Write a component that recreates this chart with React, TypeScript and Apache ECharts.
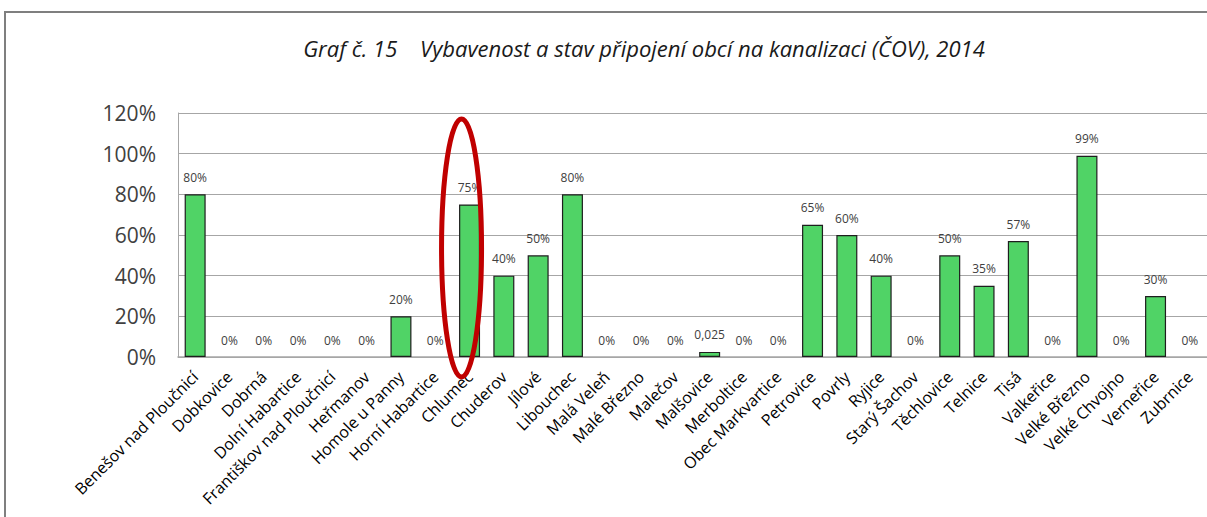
import React, { useEffect, useRef } from "react";
import * as echarts from "echarts";

const titleText = "Graf č. 15    Vybavenost a stav připojení obcí na kanalizaci (ČOV), 2014";

const categories = [
  "Benešov nad Ploučnicí", "Dobkovice", "Dobrná", "Dolní Habartice", "Františkov nad Ploučnicí",
  "Heřmanov", "Homole u Panny", "Horní Habartice", "Chlumec", "Chuderov",
  "Jílové", "Libouchec", "Malá Veleň", "Malé Březno", "Malečov",
  "Malšovice", "Merboltice", "Obec Markvartice", "Petrovice", "Povrly",
  "Ryjice", "Starý Šachov", "Těchlovice", "Telnice", "Tisá",
  "Valkeřice", "Velké Březno", "Velké Chvojno", "Verneřice", "Zubrnice",
];

const values = [
  0.8, 0, 0, 0, 0,
  0, 0.2, 0, 0.75, 0.4,
  0.5, 0.8, 0, 0, 0,
  0.025, 0, 0, 0.65, 0.6,
  0.4, 0, 0.5, 0.35, 0.57,
  0, 0.99, 0, 0.3, 0,
];

const yTicks = [0, 0.2, 0.4, 0.6, 0.8, 1.0, 1.2];
const highlighted = "Chlumec";

const fmtLabel = (v: number) => {
  const pct = Math.round(v * 1000) / 10;
  if (Number.isInteger(pct)) return pct + "%";
  return String(v).replace(".", ",");
};

export default function App() {
  const ref = useRef<HTMLDivElement>(null);
  useEffect(() => {
    document.body.style.margin = "0";
    if (!ref.current) return;
    const chart = echarts.init(ref.current, undefined, { renderer: "svg" });
    const gridLeft = 178;
    const gridTop = 113;
    const gridW = 1031;
    const gridH = 244;
    const frame = {
      type: "rect",
      shape: { x: 5, y: 12, width: 1400, height: 700 },
      style: { fill: "none", stroke: "#7f7f7f", lineWidth: 2 },
      silent: true,
    };
    chart.setOption({
      animation: false,
      backgroundColor: "#ffffff",
      title: {
        text: titleText,
        left: 639,
        top: 32,
        textAlign: "center",
        textStyle: {
          fontFamily: "Open Sans",
          fontStyle: "italic",
          fontWeight: "normal",
          fontSize: 22,
          color: "#1a1a1a",
        },
      },
      grid: { left: gridLeft, top: gridTop, width: gridW, height: gridH, containLabel: false },
      xAxis: {
        type: "category",
        data: categories,
        axisLine: { lineStyle: { color: "#a6a6a6", width: 1.5 } },
        axisTick: { show: false },
        axisLabel: {
          interval: 0,
          rotate: 45,
          fontFamily: "Open Sans",
          fontSize: 16,
          color: "#000000",
          margin: 17,
        },
      },
      yAxis: {
        type: "value",
        min: yTicks[0],
        max: yTicks[yTicks.length - 1],
        interval: 0.2,
        axisLine: { show: true, lineStyle: { color: "#a6a6a6", width: 1 } },
        axisTick: { show: false },
        splitLine: { lineStyle: { color: "#a6a6a6", width: 1 } },
        axisLabel: {
          formatter: (v: number) => Math.round(v * 100) + "%",
          fontFamily: "Open Sans",
          fontSize: 21,
          color: "#404040",
          margin: 22,
        },
      },
      series: [
        {
          type: "bar",
          data: values.map((v) => ({
            value: v,
            itemStyle: v === 0 ? { borderWidth: 0 } : undefined,
          })),
          barWidth: 21,
          itemStyle: { color: "#50d366", borderColor: "#1e1e1e", borderWidth: 1.2 },
          label: {
            show: true,
            position: "top",
            distance: 11,
            fontFamily: "Open Sans",
            fontSize: 12,
            color: "#404040",
            formatter: (p: any) => fmtLabel(p.value),
          },
        },
      ],
      graphic: [frame],
    });
    const idx = categories.indexOf(highlighted);
    const [cx] = chart.convertToPixel({ gridIndex: 0 }, [idx, 0]) as number[];
    chart.setOption({
      graphic: [
        frame,
        {
          type: "ellipse",
          shape: { cx: cx - 8, cy: 248, rx: 20, ry: 129 },
          style: { fill: "none", stroke: "#c00000", lineWidth: 5 },
          silent: true,
          z: 100,
        },
      ],
    });
    return () => chart.dispose();
  }, []);
  return <div ref={ref} style={{ width: 1207, height: 517 }} />;
}
